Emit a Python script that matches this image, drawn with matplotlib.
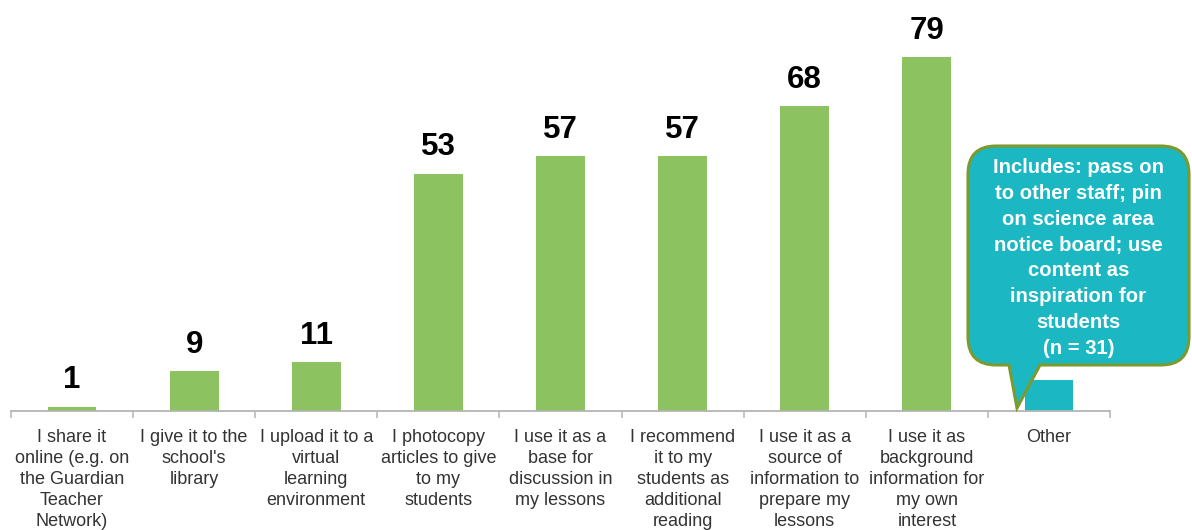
import matplotlib
matplotlib.use("Agg")
import matplotlib.pyplot as plt
from matplotlib.path import Path
from matplotlib.patches import PathPatch

# ── Data ──────────────────────────────────────────────────────────────
CATEGORIES = [
    "I share it\nonline (e.g. on\nthe Guardian\nTeacher\nNetwork)",
    "I give it to the\nschool's\nlibrary",
    "I upload it to a\nvirtual\nlearning\nenvironment",
    "I photocopy\narticles to give\nto my\nstudents",
    "I use it as a\nbase for\ndiscussion in\nmy lessons",
    "I recommend\nit to my\nstudents as\nadditional\nreading",
    "I use it as a\nsource of\ninformation to\nprepare my\nlessons",
    "I use it as\nbackground\ninformation for\nmy own\ninterest",
    "Other",
]
VALUES = [1, 9, 11, 53, 57, 57, 68, 79, 7]
SHOW_LABEL = [True, True, True, True, True, True, True, True, False]

CALLOUT_TEXT = ("Includes: pass on\nto other staff; pin\non science area\n"
                "notice board; use\ncontent as\ninspiration for\nstudents\n(n = 31)")

GREEN = "#8cc360"
TEAL = "#1bb7c3"
OLIVE = "#7d9a2c"
FONT = "Liberation Sans"

W, H = 1192, 530

fig = plt.figure(figsize=(W / 100, H / 100), dpi=100)
fig.patch.set_facecolor("white")
ax = fig.add_axes([11 / W, (H - 411) / H, 1099 / W, 400 / H])

x = list(range(len(VALUES)))
colors = [GREEN] * (len(VALUES) - 1) + [TEAL]
bars = ax.bar(x, VALUES, width=0.4, color=colors, edgecolor="none", zorder=2)

for b, v, show in zip(bars, VALUES, SHOW_LABEL):
    if not show:
        continue
    ax.annotate(str(v), (b.get_x() + b.get_width() / 2, v),
                xytext=(0, 8), textcoords="offset points",
                ha="center", va="bottom", fontsize=22.5, fontweight="bold",
                family=FONT, color="black")

ax.set_xlim(-0.5, len(VALUES) - 0.5)
ax.set_ylim(0, 89.3)

for s in ("top", "right", "left"):
    ax.spines[s].set_visible(False)
ax.spines["bottom"].set_color("#b4b4b4")
ax.spines["bottom"].set_linewidth(1.3)
ax.set_yticks([])

ax.set_xticks(x)
ax.set_xticklabels(CATEGORIES, fontsize=13, family=FONT, color="#333333",
                   linespacing=1.3, va="top")
ax.tick_params(axis="x", which="major", length=0, pad=13)
ax.set_xticks([i - 0.5 for i in range(len(VALUES) + 1)], minor=True)
ax.tick_params(axis="x", which="minor", length=5, width=1.1, color="#b4b4b4")


# ── Speech-bubble callout (figure pixel coords, y measured from top) ──
def fp(px, py):
    return (px / W, 1 - py / H)


L, R, T, B, r = 968, 1189, 146, 365, 28
tail = [(1040, B), (1017, 408), (1009, B)]
pts = [fp(L + r, T), fp(R - r, T),
       fp(R, T), fp(R, T + r),
       fp(R, B - r),
       fp(R, B), fp(R - r, B),
       fp(*tail[0]), fp(*tail[1]), fp(*tail[2]),
       fp(L + r, B),
       fp(L, B), fp(L, B - r),
       fp(L, T + r),
       fp(L, T), fp(L + r, T),
       fp(L + r, T)]
codes = [Path.MOVETO, Path.LINETO,
         Path.CURVE3, Path.CURVE3,
         Path.LINETO,
         Path.CURVE3, Path.CURVE3,
         Path.LINETO, Path.LINETO, Path.LINETO,
         Path.LINETO,
         Path.CURVE3, Path.CURVE3,
         Path.LINETO,
         Path.CURVE3, Path.CURVE3,
         Path.CLOSEPOLY]
bubble = PathPatch(Path(pts, codes), transform=fig.transFigure,
                   facecolor=TEAL, edgecolor=OLIVE, linewidth=2.2, zorder=5)
fig.patches.append(bubble)

cx, cy = fp((L + R) / 2, 258)
fig.text(cx, cy, CALLOUT_TEXT, ha="center", va="center", fontsize=14.6,
         fontweight="bold", family=FONT, color="white", linespacing=1.45,
         zorder=6)

fig.savefig("out.png", dpi=100)
